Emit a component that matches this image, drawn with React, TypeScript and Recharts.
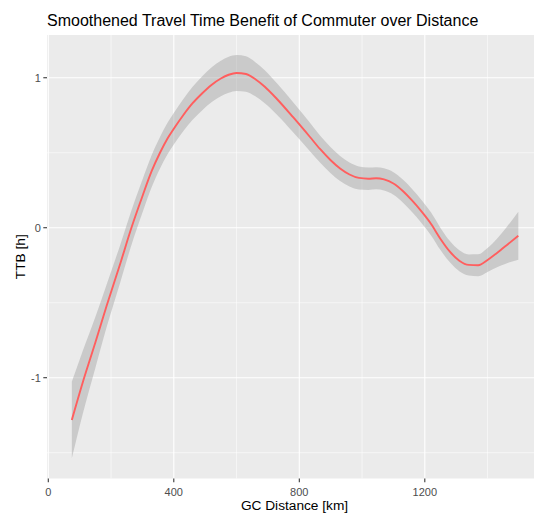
import React from 'react';
import { ComposedChart, Area, Line, XAxis, YAxis, CartesianGrid, Label } from 'recharts';

// loess fit: distance (km), fitted TTB (h) and the band
const distanceKm = [75, 110, 150, 186, 230, 265, 300, 330, 356, 380, 400, 430, 460, 490, 520, 550, 575, 600, 630, 660, 690, 728, 781, 834, 866, 900, 930, 960, 990, 1020, 1045, 1070, 1100, 1130, 1160, 1190, 1220, 1250, 1280, 1310, 1340, 1370, 1400, 1430, 1460, 1498];
const ttbFit = [-1.282, -1.03, -0.765, -0.52, -0.235, 0.0, 0.21, 0.38, 0.5, 0.595, 0.66, 0.75, 0.83, 0.895, 0.952, 0.995, 1.02, 1.032, 1.025, 0.99, 0.94, 0.86, 0.735, 0.605, 0.525, 0.45, 0.395, 0.355, 0.332, 0.327, 0.33, 0.322, 0.295, 0.245, 0.18, 0.107, 0.025, -0.075, -0.16, -0.22, -0.248, -0.25, -0.215, -0.168, -0.118, -0.053];
const ttbLower = [-1.537, -1.24, -0.935, -0.662, -0.36, -0.115, 0.1, 0.273, 0.395, 0.49, 0.555, 0.643, 0.72, 0.782, 0.836, 0.877, 0.9, 0.912, 0.907, 0.876, 0.83, 0.755, 0.635, 0.51, 0.435, 0.363, 0.311, 0.275, 0.255, 0.252, 0.256, 0.248, 0.22, 0.169, 0.103, 0.03, -0.051, -0.149, -0.231, -0.29, -0.318, -0.323, -0.295, -0.263, -0.238, -0.213];
const ttbUpper = [-1.027, -0.82, -0.595, -0.378, -0.11, 0.115, 0.32, 0.487, 0.605, 0.7, 0.765, 0.857, 0.94, 1.008, 1.068, 1.113, 1.14, 1.152, 1.143, 1.104, 1.05, 0.965, 0.835, 0.7, 0.615, 0.537, 0.479, 0.435, 0.409, 0.402, 0.404, 0.396, 0.37, 0.321, 0.257, 0.184, 0.101, -0.001, -0.089, -0.15, -0.178, -0.177, -0.135, -0.073, 0.002, 0.107];

const xTicks = [0, 400, 800, 1200];
const xMinor = [200, 600, 1000, 1400];
const yTicks = [-1, 0, 1];
const yMinor = [-1.5, -0.5, 0.5];

const font = '"Liberation Sans", Arial, sans-serif';

const data = distanceKm.map((d, i) => ({
  dist: d,
  fit: ttbFit[i],
  band: [ttbLower[i], ttbUpper[i]],
}));

export default function App() {
  return (
    <div style={{ position: 'absolute', left: 0, top: 0, width: 534, height: 513, overflow: 'hidden', background: '#fff', fontFamily: font }}>
      <div style={{ position: 'absolute', left: 47, top: 12.5, fontSize: 16, lineHeight: '16px', color: '#000', whiteSpace: 'nowrap' }}>
        Smoothened Travel Time Benefit of Commuter over Distance
      </div>
      <ComposedChart width={542} height={513} data={data} margin={{ top: 35, right: 0, bottom: 0, left: 0 }}>
        <CartesianGrid fill="#EBEBEB" stroke="#FFFFFF" strokeWidth={0.55} horizontalValues={yMinor} verticalValues={xMinor} syncWithTicks={false} />
        <CartesianGrid stroke="#FFFFFF" strokeWidth={1.1} horizontalValues={yTicks} verticalValues={xTicks} syncWithTicks={false} />
        <XAxis
          dataKey="dist"
          type="number"
          domain={[-4.1, 1573.5]}
          allowDataOverflow
          ticks={xTicks}
          interval={0}
          height={34.5}
          axisLine={false}
          tickLine={{ stroke: '#333333', strokeWidth: 1.07 }}
          tickSize={3.7}
          tickMargin={6}
          tick={{ fontSize: 11, fill: '#4D4D4D', fontFamily: font }}
        >
          <Label
            content={() => (
              <text x={294.5} y={509.5} textAnchor="middle" fontSize={13.7} fill="#000" fontFamily={font}>GC Distance [km]</text>
            )}
          />
        </XAxis>
        <YAxis
          type="number"
          domain={[-1.672, 1.285]}
          allowDataOverflow
          ticks={yTicks}
          interval={0}
          width={47}
          axisLine={false}
          tickLine={{ stroke: '#333333', strokeWidth: 1.07 }}
          tickSize={3.7}
          tickMargin={2.5}
          tick={{ fontSize: 11, fill: '#4D4D4D', fontFamily: font }}
        >
          <Label
            content={() => (
              <text x={25.5} y={256.7} transform="rotate(-90, 25.5, 256.7)" textAnchor="middle" fontSize={13.7} fill="#000" fontFamily={font}>TTB [h]</text>
            )}
          />
        </YAxis>
        <Area dataKey="band" type="monotone" stroke="none" fill="#999999" fillOpacity={0.4} isAnimationActive={false} />
        <Line dataKey="fit" type="monotone" stroke="#FF5E5E" strokeWidth={1.9} dot={false} activeDot={false} isAnimationActive={false} />
      </ComposedChart>
    </div>
  );
}
